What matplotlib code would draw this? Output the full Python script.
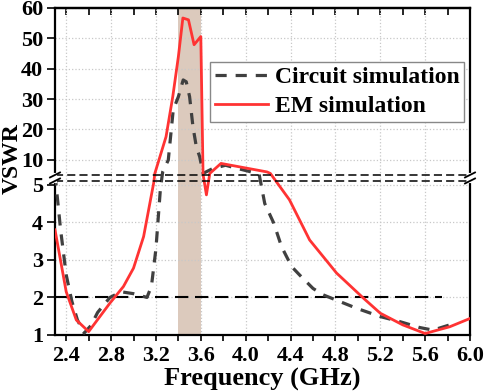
import numpy as np
import matplotlib
matplotlib.use('Agg')
from matplotlib import pyplot as plt

plt.rcParams['font.family'] = ['Liberation Serif', 'DejaVu Serif']
plt.rcParams['font.weight'] = 'bold'

# Data
circ_f = [2.30, 2.35, 2.40, 2.45, 2.50, 2.56, 2.62, 2.68, 2.79, 2.89, 3.00, 3.12, 3.16,
          3.20, 3.24, 3.26, 3.31, 3.354, 3.40, 3.443, 3.47, 3.50, 3.53, 3.56, 3.59, 3.62,
          3.70, 3.82, 3.92, 4.05, 4.12, 4.17, 4.25, 4.32, 4.41, 4.48, 4.60, 4.69, 4.84,
          4.99, 5.20, 5.37, 5.55, 5.67, 5.82]
circ_v = [5.2, 3.8, 2.6, 1.9, 1.4, 1.05, 1.25, 1.6, 2.0, 2.15, 2.1, 2.0, 2.3,
          3.3, 4.9, 6.0, 9.9, 26.4, 30.8, 36.3, 35.7, 30.8, 20.9, 14.3, 11.0, 5.5,
          7.0, 8.2, 7.2, 6.0, 5.2, 4.5, 3.98, 3.35, 2.82, 2.6, 2.24, 2.07, 1.89,
          1.71, 1.49, 1.36, 1.2, 1.13, 1.27]

em_f = [2.30, 2.40, 2.49, 2.60, 2.79, 2.91, 3.00, 3.09, 3.18, 3.19, 3.29, 3.35, 3.40,
        3.44, 3.49, 3.54, 3.60, 3.62, 3.65, 3.68, 3.78, 4.19, 4.22, 4.39, 4.57, 4.81,
        5.05, 5.20, 5.40, 5.60, 5.82, 6.00]
em_v = [3.8, 2.15, 1.4, 1.09, 1.85, 2.29, 2.78, 3.62, 5.05, 5.5, 17.6, 30.8, 44.0,
        56.7, 56.1, 47.9, 50.6, 5.2, 4.73, 5.5, 8.8, 6.0, 5.5, 4.6, 3.53, 2.65,
        1.98, 1.58, 1.27, 1.04, 1.22, 1.44]

band = [3.4, 3.6]
ref_line = 2.0
ref_end = 5.75

xticks = [2.4, 2.8, 3.2, 3.6, 4.0, 4.4, 4.8, 5.2, 5.6, 6.0]
yticks = [1, 2, 3, 4, 5, 10, 20, 30, 40, 50, 60]

# broken y scale: 1..5.1 below, 5..60 above (compressed)
low_top = 5.1
up_bot = 5.0
gap = 0.16
k = 3.03 / 37.5


def fwd(v):
    v = np.asarray(v, dtype=float)
    return np.where(v <= low_top, v, low_top + gap + (v - up_bot) * k)


def inv(u):
    u = np.asarray(u, dtype=float)
    base = low_top + gap + (low_top - up_bot) * k
    return np.where(u <= low_top, u,
                    np.where(u < base, low_top, up_bot + (u - low_top - gap) / k))


fig = plt.figure(figsize=(4.84, 3.91), dpi=100)
ax = fig.add_axes([55 / 484, 56 / 391, 415 / 484, 327 / 391])
ax.set_yscale('function', functions=(fwd, inv))
ax.set_xlim(2.3, 6.0)
ax.set_ylim(1, 60)

ax.axvspan(band[0], band[1], color='#dccabd', zorder=0, lw=0)
ax.plot([2.3, ref_end], [ref_line, ref_line], color='black', ls=(0, (6.4, 3.2)), lw=1.5, zorder=2)
ax.plot(circ_f, circ_v, color='#404040', ls=(0, (3.5, 2.8)), lw=2.3, zorder=3,
        label='Circuit simulation')
ax.plot(em_f, em_v, color='#ff3333', lw=2.0, zorder=4, label='EM simulation')

# break lines across the plot (axes fractions)
u0, u1 = float(fwd(1)), float(fwd(60))
f_lo = (low_top - u0) / (u1 - u0)
f_hi = (low_top + gap - u0) / (u1 - u0)
for ff in (f_lo, f_hi):
    ax.plot([0, 1], [ff, ff], transform=ax.transAxes, color='black', ls=(0, (5.3, 2.7)),
            lw=1.1, zorder=5)

ax.set_xticks(xticks)
ax.set_xticklabels([f'{t:.1f}' for t in xticks], fontweight='bold')
ax.set_xticks(np.arange(2.4, 6.01, 0.2), minor=True)
ax.set_yticks(yticks)
ax.set_yticklabels([str(t) for t in yticks], fontweight='bold')
ax.yaxis.set_minor_locator(matplotlib.ticker.NullLocator())
ax.tick_params(axis='x', which='both', direction='out', top=False, labelsize=16, length=4,
               width=1.2, pad=4)
ax.tick_params(axis='y', which='both', direction='out', labelsize=16, length=5.5, width=1.2,
               pad=3)
ax.grid(True, color='#c8c8c8', ls=':', lw=0.9)
for s in ax.spines.values():
    s.set_linewidth(1.6)

# top ticks inside
sec = ax.secondary_xaxis('top')
sec.set_xticks(xticks)
sec.set_xticks(np.arange(2.4, 6.01, 0.2), minor=True)
sec.tick_params(axis='x', which='both', direction='in', labeltop=False, length=5, width=1.2)
sec.spines['top'].set_linewidth(1.6)

# break marks on the spines
for xa in (0, 1):
    ax.plot([xa, xa], [f_lo, f_hi], transform=ax.transAxes, color='white', lw=3, zorder=6,
            clip_on=False)
    for ff in (f_lo, f_hi):
        x0, y0 = ax.transAxes.transform([xa, ff])
        p0 = fig.transFigure.inverted().transform([x0 - 5, y0 - 2.5])
        p1 = fig.transFigure.inverted().transform([x0 + 5, y0 + 2.5])
        fig.add_artist(plt.Line2D([p0[0], p1[0]], [p0[1], p1[1]], color='black', lw=1.3))

ax.set_xlabel('Frequency (GHz)', fontsize=19, fontweight='bold', labelpad=1)
ax.set_ylabel('VSWR', fontsize=17, fontweight='bold')
ax.yaxis.set_label_coords(-0.078, 0.54)

leg = ax.legend(loc='upper left', bbox_to_anchor=(0.373, 0.835), fontsize=17, frameon=True,
                fancybox=False, edgecolor='#888888', handlelength=2.25, borderpad=0.2,
                labelspacing=0.3, handletextpad=0.3, borderaxespad=0, framealpha=1)
leg.get_frame().set_linewidth(1.0)
leg.set_zorder(10)

fig.savefig('out.png', dpi=100)
